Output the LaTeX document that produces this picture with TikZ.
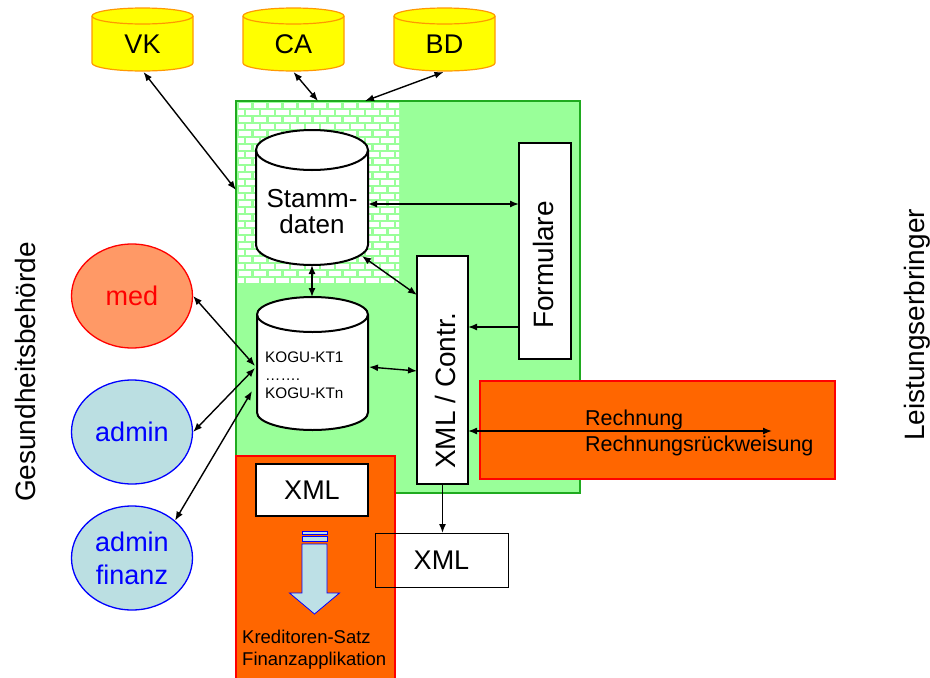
\documentclass[tikz,border=0pt]{standalone}
\usepackage{fontspec}
\setmainfont{Liberation Sans}
\usetikzlibrary{arrows.meta,calc,shapes.geometric}
\definecolor{cylyellow}{HTML}{FFFF00}
\definecolor{cylorange}{HTML}{FF9900}
\definecolor{boxgreen}{HTML}{99FF99}
\definecolor{boxgreenline}{HTML}{1FAA1F}
\definecolor{rechorange}{HTML}{FF6600}
\definecolor{medfill}{HTML}{FF9966}
\definecolor{adminfill}{HTML}{BBDFE2}
\definecolor{arrowfill}{HTML}{BDE0E6}
\newcommand\cylbody[6]{%
  \pgfmathsetmacro\cylrx{(#4-#2)/2}%
  \path[#1] (#2,#3+#6) -- (#2,#5-#6) arc[start angle=180,end angle=360,x radius=\cylrx pt,y radius=#6 pt] -- (#4,#3+#6) arc[start angle=0,end angle=180,x radius=\cylrx pt,y radius=#6 pt] -- cycle;
  \path[#1,fill=none] (#2,#3+#6) arc[start angle=180,end angle=360,x radius=\cylrx pt,y radius=#6 pt];
}
\tikzset{
  ft28/.style={font=\fontsize{28}{33}\selectfont,inner sep=0},
  ft27/.style={font=\fontsize{27}{33}\selectfont},
  ft26/.style={font=\fontsize{26}{26}\selectfont,inner sep=0},
  ft21/.style={font=\fontsize{21.5}{26}\selectfont,inner sep=0},
  ft18/.style={font=\fontsize{18.5}{22}\selectfont,inner sep=0},
  ft15/.style={font=\fontsize{15.3}{18}\selectfont,inner sep=0},
  anchorbox/.style={inner sep=0,outer sep=0},
  ycyl/.style={draw=cylorange,fill=cylyellow,line width=1.2pt},
  wcyl/.style={draw=black,fill=white,line width=2pt},
  wbox/.style={draw=black,fill=white,line width=2pt,inner sep=0,outer sep=0},
  obox/.style={draw=red,fill=rechorange,line width=1.5pt,inner sep=0,outer sep=0},
  dbl/.style={{Latex[length=9pt,width=7pt]}-{Latex[length=9pt,width=7pt]},line width=1.4pt},
  sgl/.style={-{Latex[length=9pt,width=7pt]},line width=1.4pt},
  ell/.style={ellipse,inner sep=0,minimum width=121,minimum height=104,line width=1.3pt,ft27,align=center},
}
\begin{document}
\begin{tikzpicture}[x=1pt,y=-1pt]
\useasboundingbox (0,0) rectangle (930,678);

% main green box
\node[draw=boxgreenline,fill=boxgreen,line width=1.5pt,inner sep=0,outer sep=0,minimum width=344,minimum height=392] (main) at (408,297) {};
% brick pattern
\begin{scope}
\clip (237.8,102.8) rectangle (399,282);
\foreach \r in {0,...,26} {
  \pgfmathsetmacro\off{mod(\r,2)*7.5}
  \foreach \c in {-1,...,11} {
    \fill[white] (237+\off+15*\c+1.5,102+7*\r+1) rectangle ++(12.5,5);
  }
}
\end{scope}

% yellow cylinders
\cylbody{ycyl}{92}{8}{193}{71}{8}
\cylbody{ycyl}{243}{8}{344}{71}{8}
\cylbody{ycyl}{394}{8}{495}{71}{8}
\node[anchorbox,minimum width=101,minimum height=63] (vk) at (142.5,39.5) {};
\node[anchorbox,minimum width=101,minimum height=63] (ca) at (293.5,39.5) {};
\node[anchorbox,minimum width=101,minimum height=63] (bd) at (444.5,39.5) {};
\node[ft27,anchor=base] (vkt) at (142.5,53) {VK};
\node[ft27,anchor=base] (cat) at (293.5,53) {CA};
\node[ft27,anchor=base] (bdt) at (444.5,53) {BD};

% Stammdaten cylinder
\cylbody{wcyl}{256}{130}{368}{265}{20}
\node[anchorbox,minimum width=112,minimum height=135] (stamm) at (312,197.5) {};
\node[ft26,anchor=base] (st1) at (312,207) {Stamm-};
\node[ft26,anchor=base] (st2) at (312,233) {daten};

% KOGU cylinder
\cylbody{wcyl}{257}{297}{368}{430}{17.5}
\node[anchorbox,minimum width=111,minimum height=133] (kogu) at (312.5,363.5) {};
\node[ft15,anchor=base west] (k1) at (265,362) {KOGU-KT1};
\node[ft15,anchor=base west] (k2) at (265,380) {…….};
\node[ft15,anchor=base west] (k3) at (265,398) {KOGU-KTn};

% Formulare
\node[wbox,minimum width=52,minimum height=216] (form) at (545,251) {};
\node[ft28,rotate=90,anchor=base] (formt) at (553,265) {Formulare};

% XML / Contr.
\node[wbox,minimum width=51,minimum height=228] (xmlc) at (442.5,370) {};
\node[ft28,rotate=90,anchor=base] (xmlct) at (455,391) {XML / Contr.};

% Rechnung box
\node[obox,minimum width=355,minimum height=98] (rech) at (657.5,430) {};
\node[ft21,anchor=base west] (r1) at (585,425) {Rechnung};
\node[ft21,anchor=base west] (r2) at (585,451) {Rechnungsrückweisung};
\coordinate (rend) at (772,431);

% Finance box
\node[obox,minimum width=159,minimum height=244] (fin) at (315.5,578) {};
\node[wbox,minimum width=112,minimum height=52,ft27] (xml1) at (312,490) {XML};
\filldraw[draw=blue,fill=arrowfill,line width=0.8pt] (302,531) rectangle (327,534);
\filldraw[draw=blue,fill=arrowfill,line width=0.8pt] (302,536.5) rectangle (327,541);
\filldraw[draw=blue,fill=arrowfill,line width=0.8pt] (302,544) -- (327,544) -- (327,593) -- (339.5,593) -- (314.5,614) -- (289.5,593) -- (302,593) -- cycle;
\node[ft18,anchor=base west] (kr1) at (242,643) {Kreditoren-Satz};
\node[ft18,anchor=base west] (kr2) at (242,665) {Finanzapplikation};

% lower XML box
\node[draw=black,line width=1pt,inner sep=0,outer sep=0,minimum width=133,minimum height=54,ft27] (xml2) at (441.5,560) {XML};

% ellipses
\node[ell,draw=red,fill=medfill,text=red] (med) at (132,296) {med};
\node[ell,draw=blue,fill=adminfill,text=blue] (admin) at (132,432) {admin};
\node[ell,draw=blue,fill=adminfill,text=blue] (finanz) at (132,558) {admin\\finanz};

% side labels
\node[ft28,rotate=90,anchor=base] (gb) at (35,372) {Gesundheitsbehörde};
\node[ft28,rotate=90,anchor=base] (le) at (924,325) {Leistungserbringer};

% connectors
\draw[dbl] ($(vk.south)+(1,1)$) -- ($(main.west)+(0,-107)$);
\draw[dbl] ($(ca.south)+(0,1)$) -- ($(main.north west)+(82,0)$);
\draw[dbl] ($(bd.south)+(-1,1)$) -- ($(main.north west)+(129,0)$);
\draw[dbl] ($(stamm.east)+(0,6.5)$) -- ($(form.west)+(0,-47)$);
\draw[dbl] (stamm.south) -- (stamm.south |- kogu.north);
\draw[dbl] ($(stamm.south east)+(-6,-9)$) -- ($(xmlc.west)+(0,-75)$);
\draw[sgl] ($(form.west)+(0,76)$) -- ($(xmlc.east)+(0,-43)$);
\draw[dbl] ($(kogu.east)+(1,3.5)$) -- ($(xmlc.west)+(0,1)$);
\draw[dbl] (med.east) -- ($(kogu.west)+(-2,2.5)$);
\draw[dbl] (admin.east) -- ($(kogu.west)+(-2,4.5)$);
\draw[dbl] (finanz.41) -- ($(kogu.west)+(-5,27.5)$);
\draw[sgl] (xmlc.south) -- (xmlc.south |- xml2.north);
\draw[dbl] ($(xmlc.east)+(0,61)$) -- (rend);
\end{tikzpicture}
\end{document}
